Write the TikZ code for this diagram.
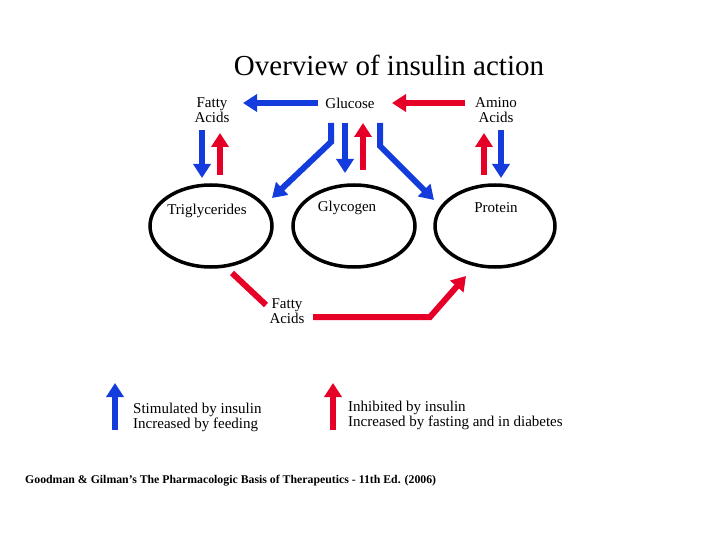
\documentclass[tikz,border=0pt]{standalone}
\usepackage{fontspec}
\setmainfont{Liberation Serif}
\usetikzlibrary{arrows.meta}
\definecolor{insblue}{RGB}{20,60,220}
\definecolor{insred}{RGB}{230,0,40}
\tikzset{
  lbl/.style={font=\fontsize{15}{14.5}\selectfont, align=center, inner sep=0pt},
  fat/.style={line width=6pt, -{Triangle[length=14pt,width=17pt]}},
  bare/.style={line width=6pt},
}
\begin{document}
\begin{tikzpicture}[x=1pt,y=-1pt]
  \useasboundingbox (0,0) rectangle (720,540);
  \node[font=\fontsize{29}{30}\selectfont] (title) at (389,65) {Overview of insulin action};
  %% pools
  \draw[line width=3.5pt] (211,226) ellipse (61 and 41);
  \draw[line width=3.5pt] (354,226) ellipse (61 and 41);
  \draw[line width=3.5pt] (495,226) ellipse (60 and 41);
  \node[lbl] (tg) at (207,211) {Triglycerides};
  \node[lbl] (gly) at (347,208) {Glycogen};
  \node[lbl] (prot) at (496,208) {Protein};
  \node[lbl] (fa) at (212,110) {Fatty\\Acids};
  \node[lbl] (glu) at (350,103) {Glucose};
  \node[lbl] (aa) at (496,110) {Amino\\Acids};
  \node[lbl] (fa2) at (287,311) {Fatty\\Acids};
  %% top row
  \draw[fat, insblue] (318,103) -- (243,103);
  \draw[fat, insred] (465,103) -- (392,103);
  \draw[fat, insblue] (202,130) -- (202,178);
  \draw[fat, insred] (220,175) -- (220,133);
  \draw[fat, insred] (484,175) -- (484,133);
  \draw[fat, insblue] (501,130) -- (501,178);
  %% from glucose
  \draw[fat, insblue] (331,123) -- (331,142) -- (272,198);
  \draw[fat, insblue] (345,123) -- (345,173);
  \draw[fat, insred] (363,170) -- (363,123);
  \draw[fat, insblue] (380,123) -- (380,146) -- (434,200);
  %% fatty acids to protein
  \draw[bare, insred] (232,273) -- (266,305);
  \draw[fat, insred] (313,317) -- (430,317) -- (466,276);
  %% legend
  \draw[fat, insblue] (115,430) -- (115,383);
  \node[lbl, align=left, anchor=north west] (stim) at (133,403) {Stimulated by insulin\\Increased by feeding};
  \draw[fat, insred] (333,430) -- (333,383);
  \node[lbl, align=left, anchor=north west] (inh) at (348,401) {Inhibited by insulin\\Increased by fasting and in diabetes};
  \node[font=\bfseries\fontsize{11.8}{13}\selectfont, anchor=west, inner sep=0pt] (src) at (25,481) {Goodman \& Gilman's The Pharmacologic Basis of Therapeutics - 11th Ed. (2006)};
\end{tikzpicture}
\end{document}
